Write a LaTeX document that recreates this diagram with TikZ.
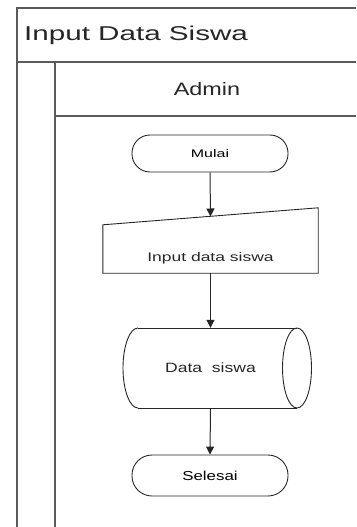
\documentclass[tikz,border=0pt]{standalone}
\usepackage{fontspec}
\setmainfont{Liberation Sans}
\usetikzlibrary{arrows.meta,calc}
\definecolor{frame}{HTML}{5A5A5A}
\definecolor{ink}{HTML}{262626}
\tikzset{
  lane/.style={draw=frame, line width=1.8pt},
  shapeline/.style={draw=ink, line width=0.9pt},
  term/.style={shapeline, rounded corners=18pt, minimum width=156pt, inner sep=0pt},
  plain/.style={inner sep=0pt, text=ink},
  flow/.style={draw=ink, line width=1pt, -{Triangle[length=8pt,width=8pt]}},
}
\newcommand{\stretchtxt}[3]{\scalebox{#1}[1]{\fontsize{#2}{#2}\selectfont #3}}
\begin{document}
\begin{tikzpicture}[x=1pt,y=-1pt]
\useasboundingbox (0,0) rectangle (356,527);
% swimlane frame
\coordinate (tl) at (17,8);
\coordinate (tr) at (356,8);
\coordinate (hl) at (17,62);
\coordinate (hr) at (356,62);
\coordinate (al) at (55,62);
\coordinate (bl) at (55,116);
\coordinate (br) at (356,116);
\coordinate (b1) at (17,527);
\coordinate (b2) at (55,527);
\draw[lane] (tr) -- (tl) -- (b1);
\draw[lane] (hl) -- (hr);
\draw[lane] (al) -- (b2);
\draw[lane] (bl) -- (br);
\node[plain, anchor=west] (title) at (24,35) {\stretchtxt{1.48}{20pt}{Input Data Siswa}};
\node[plain] (lane) at (207,89) {\stretchtxt{1.3}{18pt}{Admin}};
% Mulai
\node[term, minimum height=37pt] (mulai) at (210,153.5) {\stretchtxt{1.45}{11pt}{Mulai}};
% manual input
\node[plain, minimum width=215pt, minimum height=65pt] (input) at (210.5,240.5) {};
\draw[shapeline] (input.south west) -- (input.south east) -- (input.north east) -- ([yshift=-17pt]input.north west) -- cycle;
\node[plain] (inputtxt) at (210.5,258) {\stretchtxt{1.4}{12.5pt}{Input data siswa}};
\coordinate (intop) at (210.5,216.5);
% storage
\node[plain, minimum width=159pt, minimum height=80pt] (store) at (210.5,368) {\stretchtxt{1.3}{13.5pt}{Data\ \ siswa}};
\draw[shapeline] (138,328) -- (297,328);
\draw[shapeline] (138,408) -- (297,408);
\draw[shapeline] (138,328) arc[start angle=90, end angle=270, x radius=15, y radius=-40];
\draw[shapeline] (297,368) ellipse[x radius=14.5, y radius=40];
% Selesai
\node[term, minimum height=41pt, rounded corners=20pt] (selesai) at (210,475.5) {\stretchtxt{1.3}{13pt}{Selesai}};
% connectors
\draw[flow] (mulai.south) -- (intop);
\draw[flow] (input.south) -- (store.north);
\draw[flow] (store.south) -- (selesai.north);
\end{tikzpicture}
\end{document}
